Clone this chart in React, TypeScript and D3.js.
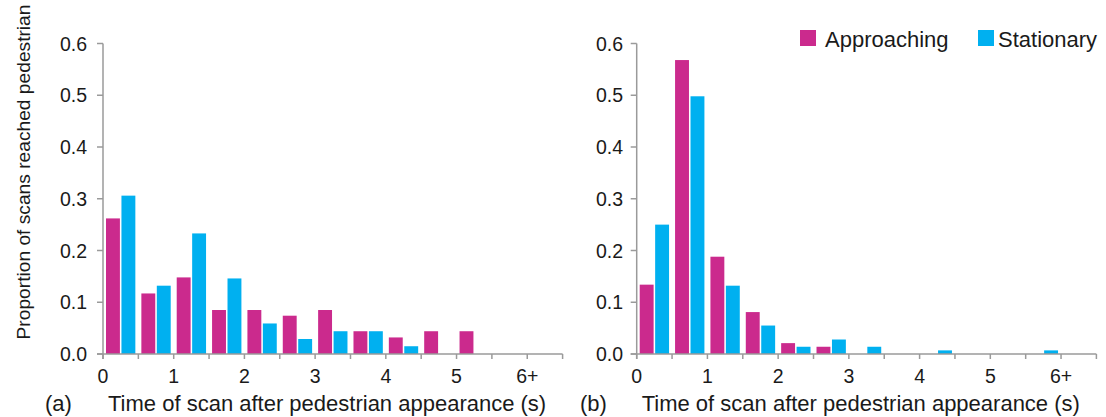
import React from "react";
import * as d3 from "d3";

const bins = ["0", "0.5", "1", "1.5", "2", "2.5", "3", "3.5", "4", "4.5", "5", "5.5", "6+"];
const seriesNames = ["Approaching", "Stationary"];
const approachingA = [0.262, 0.117, 0.148, 0.085, 0.085, 0.074, 0.085, 0.044, 0.032, 0.044, 0.044, 0, 0];
const stationaryA = [0.306, 0.132, 0.233, 0.146, 0.059, 0.029, 0.044, 0.044, 0.015, 0, 0, 0, 0];
const approachingB = [0.134, 0.568, 0.188, 0.081, 0.021, 0.014, 0, 0, 0, 0, 0, 0, 0];
const stationaryB = [0.25, 0.498, 0.132, 0.055, 0.014, 0.028, 0.014, 0, 0.007, 0, 0, 0.007, 0];
const xTickLabels = ["0", "1", "2", "3", "4", "5", "6+"];
const yTicks = [0, 0.1, 0.2, 0.3, 0.4, 0.5, 0.6];
const colors = ["#CB2A8D", "#00B0F0"];
const FONT = "'Liberation Sans', Arial, sans-serif";
const AXIS = "#9a9a9a";
const TEXT = "#1a1a1a";

type PanelProps = { x0: number; x1: number; data: number[][]; tag: string; tagX: number; labelRight: number };

function Panel({ x0, x1, data, tag, tagX, labelRight }: PanelProps) {
  const y = d3.scaleLinear().domain([0, 0.6]).range([354, 43.5]);
  const outer = d3.scaleBand<string>().domain(bins).range([x0, x1]).paddingInner(0.17).paddingOuter(0.085);
  const inner = d3.scaleBand<string>().domain(seriesNames).range([0, outer.bandwidth()]).paddingInner(0.1);
  const step = outer.step();
  const boundaries = d3.range(bins.length + 1).map((k) => x0 + k * step);
  const y0 = y(0);
  return (
    <g>
      {data.map((vals, si) =>
        vals.map((v, i) =>
          v > 0 ? (
            <rect
              key={`${si}-${i}`}
              x={(outer(bins[i]) as number) + (inner(seriesNames[si]) as number)}
              y={y(v)}
              width={inner.bandwidth()}
              height={y0 - y(v)}
              fill={colors[si]}
            />
          ) : null
        )
      )}
      <line x1={x0} x2={x0} y1={y(0.6)} y2={y0 + 5} stroke={AXIS} strokeWidth={1.5} />
      <line x1={x0 - 6} x2={x1} y1={y0} y2={y0} stroke={AXIS} strokeWidth={1.5} />
      {yTicks.map((t) => (
        <g key={t}>
          <line x1={x0 - 6} x2={x0} y1={y(t)} y2={y(t)} stroke={AXIS} strokeWidth={1.5} />
          <text x={labelRight} y={y(t) + 7} textAnchor="end" fontSize={19.5} fontFamily={FONT} fill={TEXT}>
            {d3.format(".1f")(t)}
          </text>
        </g>
      ))}
      {boundaries.map((bx, k) => (
        <line key={k} x1={bx} x2={bx} y1={y0} y2={y0 + 5} stroke={AXIS} strokeWidth={1.5} />
      ))}
      {xTickLabels.map((lab, k) => (
        <text key={lab} x={boundaries[k * 2]} y={383} textAnchor="middle" fontSize={19.5} fontFamily={FONT} fill={TEXT}>
          {lab}
        </text>
      ))}
      <text x={tagX} y={411} fontSize={22} fontFamily={FONT} fill={TEXT}>
        {tag}
      </text>
      <text x={x0 + 5} y={411} fontSize={22} fontFamily={FONT} fill={TEXT}>
        Time of scan after pedestrian appearance (s)
      </text>
    </g>
  );
}

export default function App() {
  return (
    <svg width={1106} height={417} style={{ position: "absolute", left: 0, top: 0, background: "#fff" }}>
      <rect width={1106} height={417} fill="#fff" />
      <text
        transform="translate(30,172) rotate(-90)"
        textAnchor="middle"
        fontSize={19.2}
        fontFamily={FONT}
        fill={TEXT}
      >
        Proportion of scans reached pedestrian
      </text>
      <Panel x0={103} x1={562.6} data={[approachingA, stationaryA]} tag="(a)" tagX={45} labelRight={87} />
      <Panel x0={636.7} x1={1096.4} data={[approachingB, stationaryB]} tag="(b)" tagX={580} labelRight={623} />
      {seriesNames.map((name, i) => {
        const lx = [800, 978][i];
        return (
          <g key={name}>
            <rect x={lx} y={30} width={16} height={16} fill={colors[i]} />
            <text x={lx + [25, 20][i]} y={46.5} fontSize={22} fontFamily={FONT} fill={TEXT}>
              {name}
            </text>
          </g>
        );
      })}
    </svg>
  );
}
